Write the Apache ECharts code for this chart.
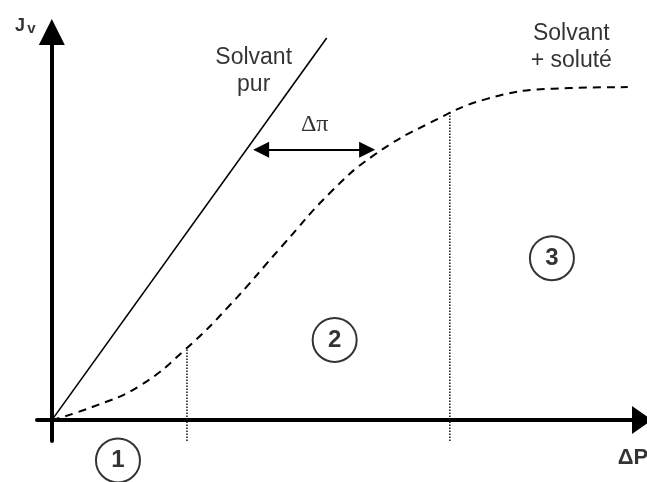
<!DOCTYPE html>
<html>
<head>
<meta charset="utf-8">
<script src="https://cdn.jsdelivr.net/npm/echarts@6/dist/echarts.min.js"></script>
<style>
  html, body { margin: 0; padding: 0; background: #fff; }
  #chart { width: 647px; height: 482px; }
</style>
</head>
<body>
<div id="chart"></div>
<script>
// axes: ΔP horizontally, Jv vertically (arbitrary units)
var xRange = [-0.26, 10.35];
var yRange = [-0.55, 10.21];

// pure solvent, straight line through the origin
var solventX = [0, 4.82];
var solventY = [0, 10.05];

// solvent + solute, dashed S-shaped curve
var soluteX = [0, 0.72, 1.54, 2.35, 3.12, 4.05, 4.88, 5.63, 6.63, 7.63, 8.79, 10.1];
var soluteY = [0, 0.35, 0.9, 1.87, 3.02, 4.6, 5.98, 6.95, 7.82, 8.45, 8.72, 8.76];

// dotted limits between the zones
var limitX = [2.37, 6.98];
var limitTop = [1.9, 8.1];

// Δπ double arrow
var piArrowX = [3.67, 5.53];
var piArrowY = 7.11;

// zone numbers
var zoneNames = ['1', '2', '3'];
var zoneX = [1.16, 4.96, 8.77];
var zoneY = [-1.06, 2.11, 4.26];

// text labels
var noteText = ['Solvant\npur', 'Solvant\n+ soluté'];
var noteX = [3.54, 9.11];
var noteY = [9.18, 9.82];

function zip(xs, ys) {
    var out = [];
    for (var i = 0; i < xs.length; i++) out.push([xs[i], ys[i]]);
    return out;
}

var chart = echarts.init(document.getElementById('chart'));
var series = [];

series.push({
    type: 'line',
    data: zip(solventX, solventY),
    showSymbol: false,
    silent: true,
    lineStyle: { color: '#000', width: 1.6 }
});

series.push({
    type: 'line',
    data: zip(soluteX, soluteY),
    smooth: 0.45,
    showSymbol: false,
    silent: true,
    lineStyle: { color: '#000', width: 2, type: [8, 6] }
});

for (var i = 0; i < limitX.length; i++) {
    series.push({
        type: 'line',
        data: [[limitX[i], yRange[0]], [limitX[i], limitTop[i]]],
        showSymbol: false,
        silent: true,
        lineStyle: { color: '#111', width: 1.5, type: [1.5, 1.5] }
    });
}

// Δπ arrow as a markLine
series.push({
    type: 'line',
    data: [],
    markLine: {
        silent: true,
        animation: false,
        symbol: ['triangle', 'triangle'],
        symbolSize: [16, 16],
        label: { show: false },
        lineStyle: { color: '#000', width: 2, type: 'solid' },
        data: [[{ coord: [piArrowX[0], piArrowY] }, { coord: [piArrowX[1], piArrowY] }]]
    }
});

// numbered circles
series.push({
    type: 'scatter',
    clip: false,
    silent: true,
    symbol: 'circle',
    symbolSize: 44,
    itemStyle: { color: 'rgba(255,255,255,0)', borderColor: '#000', borderWidth: 2 },
    label: {
        show: true, position: 'inside', color: '#000',
        fontFamily: 'Liberation Sans', fontWeight: 'bold', fontSize: 24,
        formatter: function (p) { return p.value[2]; }
    },
    data: zoneX.map(function (x, i) { return [x, zoneY[i], zoneNames[i]]; })
});

// plain text notes
var textStyle = { show: true, position: 'inside', color: '#000', fontFamily: 'Liberation Sans', fontSize: 23, lineHeight: 27 };
series.push({
    type: 'scatter',
    clip: false,
    silent: true,
    symbolSize: 1,
    itemStyle: { color: 'rgba(0,0,0,0)' },
    label: Object.assign({}, textStyle, { formatter: function (p) { return p.value[2]; } }),
    data: noteX.map(function (x, i) { return [x, noteY[i], noteText[i]]; })
});

// Δπ, axis names
series.push({
    type: 'scatter',
    clip: false,
    silent: true,
    symbolSize: 1,
    itemStyle: { color: 'rgba(0,0,0,0)' },
    data: [
        { value: [4.61, 7.76], label: { show: true, position: 'inside', formatter: 'Δπ', color: '#000', fontFamily: 'Liberation Serif', fontSize: 24 } },
        { value: [-0.56, 10.38], label: { show: true, position: 'inside', formatter: 'J', color: '#000', fontFamily: 'Liberation Sans', fontWeight: 'bold', fontSize: 18 } },
        { value: [-0.36, 10.3], label: { show: true, position: 'inside', formatter: 'v', color: '#000', fontFamily: 'Liberation Sans', fontWeight: 'bold', fontSize: 15 } },
        { value: [10.19, -1.0], label: { show: true, position: 'inside', formatter: 'ΔP', color: '#000', fontFamily: 'Liberation Sans', fontWeight: 'bold', fontSize: 22 } }
    ]
});

var axisCommon = {
    type: 'value',
    axisTick: { show: false },
    axisLabel: { show: false },
    splitLine: { show: false }
};

option = {
    animation: false,
    backgroundColor: '#fff',
    grid: { left: 37, right: 5, top: 32, bottom: 41 },
    xAxis: Object.assign({}, axisCommon, {
        min: xRange[0], max: xRange[1],
        axisLine: { show: true, onZero: true, symbol: ['none', 'triangle'], symbolSize: [28, 20], lineStyle: { color: '#000', width: 4 } }
    }),
    yAxis: Object.assign({}, axisCommon, {
        min: yRange[0], max: yRange[1],
        axisLine: { show: true, onZero: true, symbol: ['none', 'triangle'], symbolSize: [26, 26], lineStyle: { color: '#000', width: 4 } }
    }),
    series: series
};
chart.setOption(option);
</script>
</body>
</html>
